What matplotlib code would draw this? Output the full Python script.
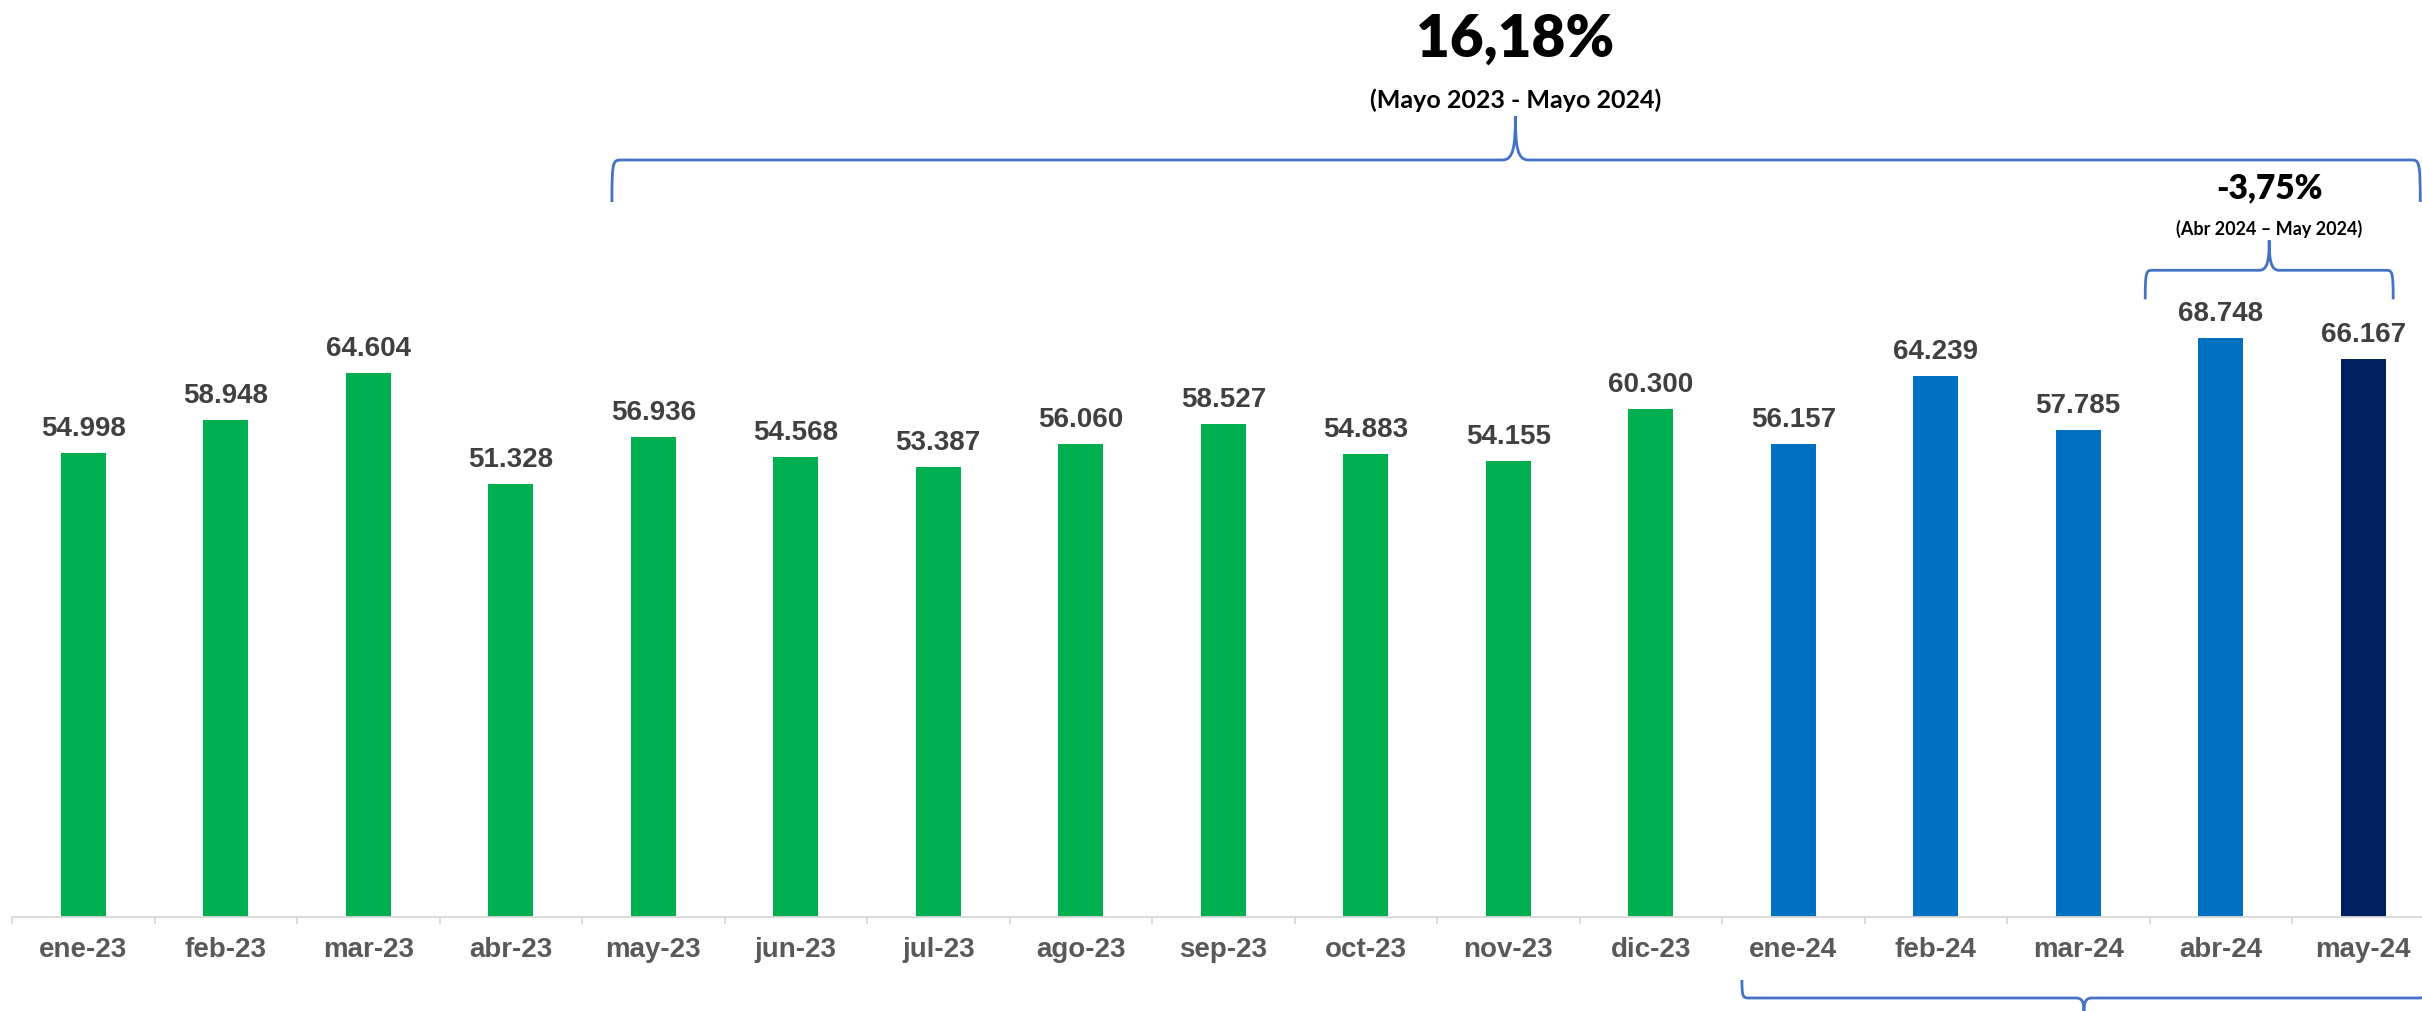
import numpy as np
import matplotlib.pyplot as plt
from matplotlib.path import Path
from matplotlib.patches import PathPatch

# Data
months = ["ene-23", "feb-23", "mar-23", "abr-23", "may-23", "jun-23", "jul-23",
          "ago-23", "sep-23", "oct-23", "nov-23", "dic-23",
          "ene-24", "feb-24", "mar-24", "abr-24", "may-24"]
values = [54998, 58948, 64604, 51328, 56936, 54568, 53387, 56060, 58527,
          54883, 54155, 60300, 56157, 64239, 57785, 68748, 66167]
value_labels = ["54.998", "58.948", "64.604", "51.328", "56.936", "54.568",
                "53.387", "56.060", "58.527", "54.883", "54.155", "60.300",
                "56.157", "64.239", "57.785", "68.748", "66.167"]

GREEN = "#00B050"
BLUE = "#0070C0"
NAVY = "#002060"
BRACE = "#4472C4"

colors = [GREEN if m.endswith("23") else BLUE for m in months]
colors[-1] = NAVY

W, H = 2422, 1011
fig = plt.figure(figsize=(W / 100, H / 100), dpi=100)
# axis runs from x=12px, 142.5px per month, baseline at 916.5px from the top
ax = fig.add_axes([12 / W, (H - 916.5) / H, 17 * 142.5 / W, 916.5 / H])

x = np.arange(len(months))
ax.bar(x, values, width=0.316, color=colors, zorder=2)
ax.set_xlim(-0.5, len(months) - 0.5)
ax.set_ylim(0, 108850)

for xi, v, lab in zip(x, values, value_labels):
    ax.annotate(lab, (xi, v), xytext=(0, 17), textcoords="offset pixels",
                ha="center", va="baseline", fontsize=20, fontweight="bold",
                color="#404040", family="Liberation Sans", annotation_clip=False)

# axis styling
for s in ["top", "right", "left"]:
    ax.spines[s].set_visible(False)
ax.spines["bottom"].set_color("#D9D9D9")
ax.spines["bottom"].set_linewidth(1.3)
ax.set_yticks([])
ax.set_xticks(x)
ax.set_xticklabels(months, fontsize=20, fontweight="bold", color="#595959",
                   family="Liberation Sans")
ax.tick_params(axis="x", which="major", length=0, pad=15)
ax.set_xticks(np.arange(-0.5, len(months), 1), minor=True)
ax.tick_params(axis="x", which="minor", length=5, width=1.3, color="#D9D9D9")


def brace(x0, x1, xm, y_end, y_line, y_tip, r=10, rt=12):
    # build a curly brace in pixel space from data positions
    p0 = ax.transData.transform((x0, y_end))
    p1 = ax.transData.transform((x1, y_end))
    pm = ax.transData.transform((xm, y_tip))
    pl = ax.transData.transform((x0, y_line))
    X0, X1, XM = p0[0], p1[0], pm[0]
    YE, YL, YT = p0[1], pl[1], pm[1]
    verts = [
        (X0, YE),
        (X0, YL), (X0 + 1, YL), (X0 + r, YL),
        (XM - rt, YL),
        (XM - 2, YL), (XM, YL + 0.3 * (YT - YL)), (XM, YT),
        (XM, YL + 0.3 * (YT - YL)), (XM + 2, YL), (XM + rt, YL),
        (X1 - r, YL),
        (X1 - 1, YL), (X1, YL), (X1, YE),
    ]
    codes = [Path.MOVETO,
             Path.CURVE4, Path.CURVE4, Path.CURVE4,
             Path.LINETO,
             Path.CURVE4, Path.CURVE4, Path.CURVE4,
             Path.CURVE4, Path.CURVE4, Path.CURVE4,
             Path.LINETO,
             Path.CURVE4, Path.CURVE4, Path.CURVE4]
    patch = PathPatch(Path(verts, codes), transform=None, fill=False,
                      edgecolor=BRACE, lw=2.0, clip_on=False)
    fig.add_artist(patch)


fig.canvas.draw()
# Mayo 2023 - Mayo 2024
brace(3.71, 16.40, 10.05, 84860, 89850, 95070, r=10, rt=13)
# Abr 2024 - May 2024
brace(14.47, 16.21, 15.34, 73300, 76750, 80300, r=8, rt=10)
# 2024 bracket below the axis
brace(11.64, 16.44, 14.04, -7540, -9680, -11220, r=8, rt=8)

ax.text(10.05, 102080, "16,18%", ha="center", va="baseline", fontsize=42,
        fontweight="heavy", color="black", family="Lato")
ax.text(10.05, 96020, "(Mayo 2023 - Mayo 2024)", ha="center", va="baseline",
        fontsize=18, fontweight="bold", color="black", family="Lato")
ax.text(15.34, 85330, "-3,75%", ha="center", va="baseline", fontsize=24,
        fontweight="heavy", color="black", family="Lato")
ax.text(15.34, 81000, "(Abr 2024 \u2013 May 2024)", ha="center", va="baseline",
        fontsize=13, fontweight="bold", color="black", family="Lato")

fig.savefig("out.png", dpi=100)
